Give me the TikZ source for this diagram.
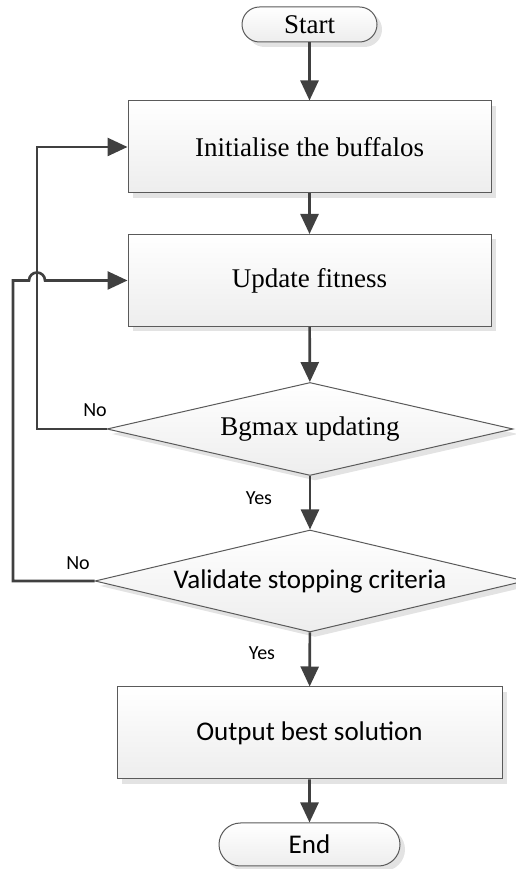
\documentclass[tikz,border=0pt]{standalone}
\usepackage{fontspec}
\setmainfont{Liberation Serif}
\newfontfamily\calibri{Carlito}
\usetikzlibrary{shapes.geometric,shapes.misc,shadows,arrows.meta}
\definecolor{linegray}{HTML}{404040}
\definecolor{bordergray}{HTML}{5A5A5A}
\begin{document}
\begin{tikzpicture}[x=1pt,y=1pt,
  shade box/.style={draw=bordergray, line width=1pt, top color=white, bottom color=black!7,
    drop shadow={shadow xshift=5pt, shadow yshift=-5pt, fill=black!11, opacity=1}},
  procbox/.style={shade box, rectangle, minimum width=363pt, minimum height=92pt, inner sep=0pt},
  termbox/.style={shade box, rounded rectangle, minimum height=35pt, inner sep=0pt},
  decbox/.style={shade box, diamond, aspect=4.3, inner sep=0pt},
  bigtext/.style={font=\fontsize{27}{32}\selectfont},
  smalltext/.style={font=\calibri\fontsize{20}{24}\selectfont},
  flow/.style={draw=linegray, line width=2.6pt, -{Triangle[length=20pt,width=18pt]}}]
\useasboundingbox (0,0) rectangle (515,869);

\node[termbox, bigtext, minimum width=135pt] (start) at (309.5,844.5) {Start};
\node[procbox, bigtext] (init) at (309.5,722) {Initialise the buffalos};
\node[procbox, bigtext] (fit) at (309.5,588.5) {Update fitness};
\node[decbox, bigtext, minimum width=406pt, minimum height=93pt] (bgmax) at (310,440) {Bgmax updating};
\node[decbox, bigtext, font=\calibri\fontsize{27}{32}\selectfont, minimum width=430pt, minimum height=102pt] (stop) at (310,288) {Validate stopping criteria};
\node[procbox, bigtext, font=\calibri\fontsize{27}{32}\selectfont, minimum width=385pt] (out) at (309.5,136) {Output best solution};
\node[termbox, font=\calibri\fontsize{27}{32}\selectfont, minimum width=181pt, minimum height=43pt] (end) at (309.5,24.5) {End};

% main line
\draw[flow] (start) -- (init);
\draw[flow] (init) -- (fit);
\draw[flow] (fit) -- (bgmax);
\draw[flow] (bgmax) -- (stop);
\draw[flow] (stop) -- (out);
\draw[flow] (out) -- (end);

% back loops
\coordinate (c1) at (37,440);
\coordinate (c2) at (37,722);
\draw[flow] (bgmax.west) -- (c1) -- (c2) -- (init.west);
\coordinate (d1) at (13,288);
\coordinate (d2) at (13,588.5);
\coordinate (d3) at (29,588.5);
\draw[flow] (stop.west) -- (d1) -- (d2) -- (d3) arc[start angle=180, end angle=0, radius=8pt] -- (fit.west);

\node[smalltext] (no1) at (95,459) {No};
\node[smalltext] (no2) at (78,306) {No};
\node[smalltext] (yes1) at (259,371) {Yes};
\node[smalltext] (yes2) at (262,216) {Yes};

\end{tikzpicture}
\end{document}
